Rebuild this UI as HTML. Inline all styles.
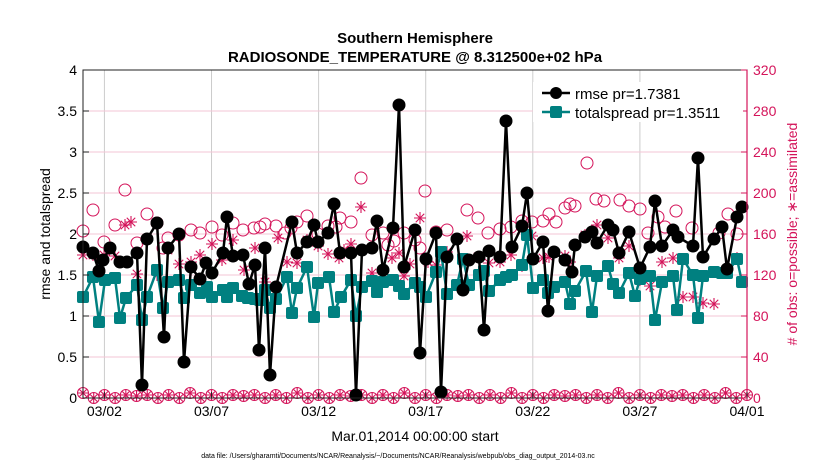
<!DOCTYPE html>
<html><head><meta charset="utf-8"><style>
body{margin:0;background:#fff;width:830px;height:470px;overflow:hidden}
svg{font-family:"Liberation Sans",sans-serif}
</style></head><body>
<svg id="s" width="830" height="470" xmlns="http://www.w3.org/2000/svg">
<rect width="830" height="470" fill="#fff"/>
<g id="grid"></g>
<g id="data"></g>
<rect x="83" y="70" width="664" height="328" fill="none" stroke="#222" stroke-width="1"/>
<line x1="747" y1="70" x2="747" y2="398" stroke="#d4145a" stroke-width="1.2"/>
<text x="415" y="43" text-anchor="middle" font-size="15" font-weight="bold">Southern Hemisphere</text>
<text x="415" y="62" text-anchor="middle" font-size="15" font-weight="bold">RADIOSONDE_TEMPERATURE @ 8.312500e+02 hPa</text>
<text transform="translate(50,234) rotate(-90)" text-anchor="middle" font-size="14">rmse and totalspread</text>
<text transform="translate(797,234) rotate(-90)" text-anchor="middle" font-size="14" fill="#d4145a"># of obs: o=possible; ∗=assimilated</text>
<text x="415" y="441" text-anchor="middle" font-size="14">Mar.01,2014 00:00:00 start</text>
<text x="398" y="458" text-anchor="middle" font-size="7">data file: /Users/gharamti/Documents/NCAR/Reanalysis/~/Documents/NCAR/Reanalysis/webpub/obs_diag_output_2014-03.nc</text>
<g id="ticks"></g>
<g>
<rect x="533" y="82" width="210" height="40" fill="#fff"/>
<line x1="542" y1="93" x2="570" y2="93" stroke="#000" stroke-width="2.5"/><circle cx="556" cy="93" r="6" fill="#000"/>
<text x="575" y="99" font-size="15">rmse pr=1.7381</text>
<line x1="542" y1="112" x2="570" y2="112" stroke="#008080" stroke-width="2.5"/><rect x="550" y="106" width="12" height="12" rx="2" fill="#008080"/>
<text x="575" y="118" font-size="15">totalspread pr=1.3511</text>
</g>
</svg>
<script>
var NS="http://www.w3.org/2000/svg";
function el(p,t,a){var e=document.createElementNS(NS,t);for(var k in a)e.setAttribute(k,a[k]);p.appendChild(e);return e;}
var g=document.getElementById('grid'),d=document.getElementById('data'),tk=document.getElementById('ticks');
var dates=["03/02","03/07","03/12","03/17","03/22","03/27","04/01"];
for(var i=0;i<7;i++){var x=83+664*(1+5*i)/31;
 if(i<6)el(g,'line',{x1:x,y1:70,x2:x,y2:398,stroke:'#ccc','stroke-width':1});
 el(tk,'line',{x1:x,y1:398,x2:x,y2:392,stroke:'#222'});
 var t=el(tk,'text',{x:x,y:416,'text-anchor':'middle','font-size':14});t.textContent=dates[i];}
for(var j=0;j<=8;j++){var y=398-41*j;
 if(j>0&&j<8)el(g,'line',{x1:83,y1:y,x2:747,y2:y,stroke:'#f3c6d6','stroke-width':1});
 var t=el(tk,'text',{x:77,y:y+5,'text-anchor':'end','font-size':14});t.textContent=(j*0.5).toString();
 var t2=el(tk,'text',{x:753,y:y+5,'font-size':14,fill:'#d4145a'});t2.textContent=(j*40).toString();
 el(tk,'line',{x1:747,y1:y,x2:741,y2:y,stroke:'#d4145a'});el(tk,'line',{x1:83,y1:y,x2:89,y2:y,stroke:'#222'});}
var M='#d4145a';
function star(x,y,r){var s='';for(var a=0;a<4;a++){var an=a*Math.PI/4;s+='M'+(x-r*Math.cos(an))+' '+(y-r*Math.sin(an))+'L'+(x+r*Math.cos(an))+' '+(y+r*Math.sin(an));}
 el(d,'path',{d:s,stroke:M,'stroke-width':1.1,fill:'none'});}
for(var i=0;i<=62;i++){var x=83+i*664/62;var y=398-((i%2)?0:3)-((i*7)%5==0?2:0);
 el(d,'circle',{cx:x,cy:y,r:5.5,fill:'none',stroke:M,'stroke-width':1});star(x,y,5);}
var circ=[[83,231],[93,210],[104,242],[115,225],[125,190],[137,243],[147,214],[157,223],[163,248],[168,238],[179,235],[191,230],[200,233],[212,227],[222,235],[233,223],[243,230],[254,228],[260,227],[265,224],[276,226],[285,233],[291,228],[297,222],[307,216],[318,234],[328,226],[336,227],[340,218],[351,222],[361,178],[372,235],[383,233],[388,245],[394,241],[404,233],[415,240],[420,248],[425,191],[436,232],[447,230],[467,210],[478,218],[488,233],[500,229],[511,227],[522,221],[532,222],[543,221],[549,214],[556,222],[565,208],[570,204],[575,206],[587,163],[596,199],[604,201],[620,200],[629,206],[640,209],[648,233],[658,217],[665,227],[676,211],[692,228],[719,233],[728,214],[737,234]];
circ.forEach(function(p){el(d,'circle',{cx:p[0],cy:p[1],r:6,fill:'none',stroke:M,'stroke-width':1});});
var ast=[[83,255],[93,255],[104,255],[115,256],[125,225],[131,222],[137,274],[146,240],[157,275],[168,250],[179,264],[191,262],[200,255],[212,244],[222,260],[233,240],[244,270],[255,248],[265,282],[278,238],[287,262],[297,263],[307,240],[318,246],[328,254],[339,258],[344,250],[351,244],[361,207],[372,273],[383,282],[392,258],[399,253],[404,276],[410,264],[420,218],[428,262],[436,265],[447,252],[457,285],[467,236],[478,257],[489,263],[500,262],[511,255],[522,266],[532,236],[543,258],[549,257],[565,256],[570,262],[585,235],[597,225],[608,238],[619,258],[629,246],[640,280],[650,286],[662,262],[673,258],[683,297],[693,297],[703,303],[714,304],[722,227],[737,258]];
ast.forEach(function(p){star(p[0],p[1],6);});
var ts=[[83,297],[93,277],[99,322],[105,280],[115,278],[120,318],[126,298],[137,285],[142,320],[147,297],[157,270],[163,308],[168,282],[179,280],[184,298],[191,285],[200,293],[207,287],[212,297],[223,290],[227,297],[233,288],[242,296],[248,298],[255,299],[260,300],[265,290],[270,308],[276,299],[287,277],[292,313],[297,288],[307,267],[314,317],[318,283],[329,277],[334,312],[341,297],[351,280],[356,316],[362,287],[372,281],[377,292],[383,282],[393,280],[399,286],[404,294],[415,283],[420,287],[426,297],[436,272],[441,252],[447,294],[457,285],[463,259],[469,285],[479,275],[484,271],[489,291],[500,280],[506,277],[512,275],[522,265],[527,235],[533,288],[543,280],[548,293],[554,287],[565,282],[570,304],[575,291],[586,271],[592,312],[597,276],[608,266],[613,284],[619,293],[629,273],[635,296],[640,279],[650,276],[655,320],[662,282],[673,276],[677,310],[683,259],[693,275],[698,318],[703,276],[714,272],[722,273],[727,273],[737,259],[742,282]];
el(d,'polyline',{points:ts.map(function(p){return p.join(',')}).join(' '),fill:'none',stroke:'#008080','stroke-width':2.5});
ts.forEach(function(p){el(d,'rect',{x:p[0]-6,y:p[1]-6,width:12,height:12,rx:2,fill:'#008080'});});
var rm=[[83,247],[93,253],[99,271],[103,260],[110,248],[120,262],[127,262],[137,253],[142,385],[147,239],[157,223],[164,337],[168,248],[179,234],[184,362],[191,267],[200,279],[206,263],[212,273],[223,253],[227,217],[233,256],[243,255],[249,284],[255,265],[259,350],[265,248],[270,375],[276,287],[292,222],[297,253],[307,242],[314,225],[318,242],[328,233],[334,204],[340,253],[351,253],[356,395],[362,250],[372,248],[377,221],[383,270],[393,228],[399,105],[404,267],[415,230],[420,353],[426,259],[436,233],[441,392],[447,257],[457,239],[463,290],[469,260],[479,257],[484,330],[489,251],[500,257],[506,121],[512,247],[522,226],[527,193],[533,259],[543,242],[548,311],[554,252],[565,260],[572,272],[575,245],[585,237],[592,232],[597,243],[608,225],[613,230],[619,253],[629,232],[640,268],[650,247],[655,201],[662,246],[673,230],[678,237],[693,246],[698,158],[703,257],[714,239],[722,227],[727,269],[737,217],[742,207]];
el(d,'polyline',{points:rm.map(function(p){return p.join(',')}).join(' '),fill:'none',stroke:'#000','stroke-width':2.5});
rm.forEach(function(p){el(d,'circle',{cx:p[0],cy:p[1],r:6.5,fill:'#000'});});
</script>
</body></html>
